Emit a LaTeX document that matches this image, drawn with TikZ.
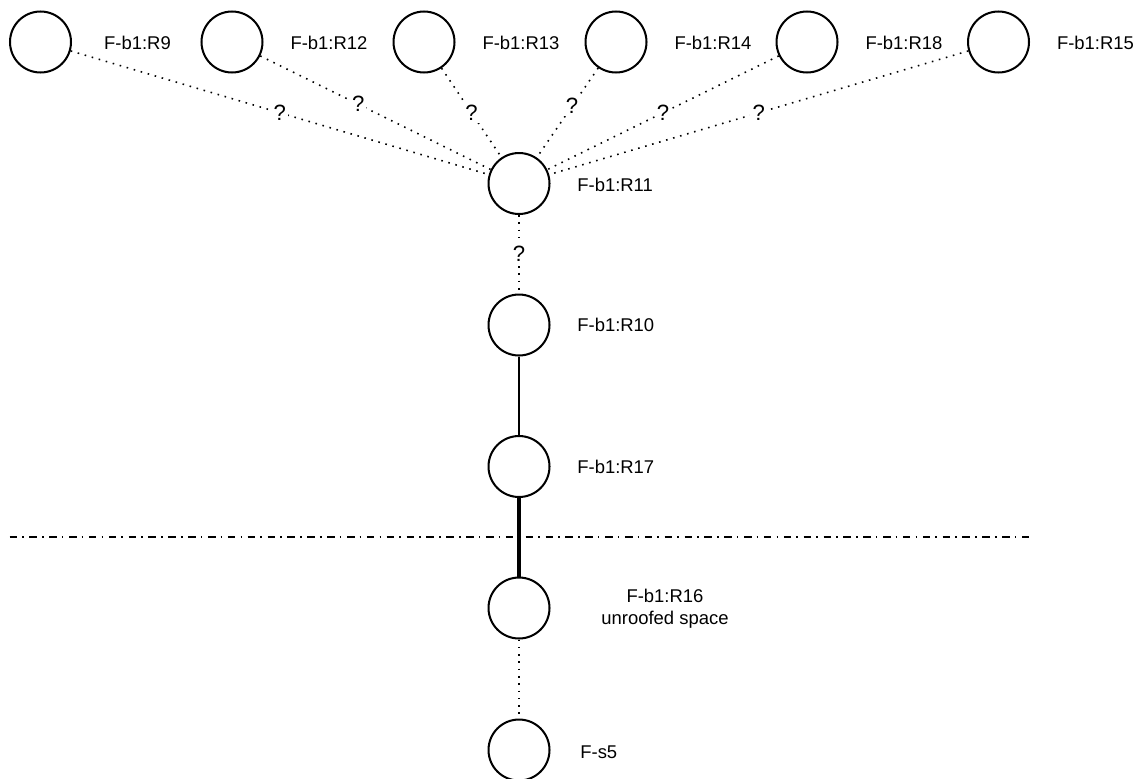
\documentclass[tikz,border=0pt]{standalone}
\usepackage{fontspec}
\setmainfont{Liberation Sans}
\tikzset{
    room/.style={circle, draw, line width=1.15pt, minimum size=1.22cm, inner sep=0pt},
    maybe/.style={line width=0.9pt, dash pattern=on 0.9pt off 3.25pt},
    qmark/.style={fill=white, inner sep=1.2pt, font=\fontsize{12.6}{14}\selectfont},
    roomlabel/.style={inner sep=0pt}
}
\begin{document}
\begin{tikzpicture}[x=0.02cm, y=-0.02cm, font=\fontsize{10.5}{12.6}\selectfont]
    \useasboundingbox (0,0) rectangle (1142,778);
    % Rooms on top row
    \node[room] (r9) at (40.5,42) {}; \node[roomlabel] (l9) at (137.5,43) {F-b1:R9};
    \node[room] (r12) at (232,42) {}; \node[roomlabel] (l12) at (329,43) {F-b1:R12};
    \node[room] (r13) at (424,42) {}; \node[roomlabel] (l13) at (521,43) {F-b1:R13};
    \node[room] (r14) at (616,42) {}; \node[roomlabel] (l14) at (713,43) {F-b1:R14};
    \node[room] (r18) at (807,42) {}; \node[roomlabel] (l18) at (904,43) {F-b1:R18};
    \node[room] (r15) at (998.5,42) {}; \node[roomlabel] (l15) at (1095.5,43) {F-b1:R15};

    % Column of rooms
    \node[room] (r11) at (519,183.5) {}; \node[roomlabel, anchor=west] (l11) at (577,185) {F-b1:R11};
    \node[room] (r10) at (519,325) {}; \node[roomlabel, anchor=west] (l10) at (577,325) {F-b1:R10};
    \node[room] (r17) at (519,466.5) {}; \node[roomlabel, anchor=west] (l17) at (577,466.5) {F-b1:R17};
    \node[room] (r16) at (519,608) {}; \node[roomlabel, align=center] (l16) at (665,609)
    {F-b1:R16\\unroofed space};
    \node[room] (s5) at (519,750) {}; \node[roomlabel, anchor=west] (l5) at (580,752) {F-s5};

    % Uncertain links
    \draw[maybe] (r9) -- node[qmark] {?} (r11); \draw[maybe] (r12) -- node[qmark, pos=0.425] {?} (r11);
    \draw[maybe] (r13) -- node[qmark] {?} (r11); \draw[maybe] (r14) -- node[qmark, pos=0.425] {?} (r11);
    \draw[maybe] (r18) -- node[qmark] {?} (r11); \draw[maybe] (r15) -- node[qmark] {?} (r11);
    \draw[maybe] (r11) -- node[qmark] {?} (r10);

    % Known links
    \draw[line width=0.8pt] (r10) -- (r17);
    \draw[line width=2pt] (r17) -- (r16);
    \draw[maybe] (r16) -- (s5);

    % Ground level
    \coordinate (gl) at (9.5,537); \coordinate (gr) at (1029,537);
    \draw[line width=0.95pt, dash pattern=on 4.3pt off 2.9pt on 0.9pt off 3.2pt] (gl) -- (gr);
\end{tikzpicture}
\end{document}
